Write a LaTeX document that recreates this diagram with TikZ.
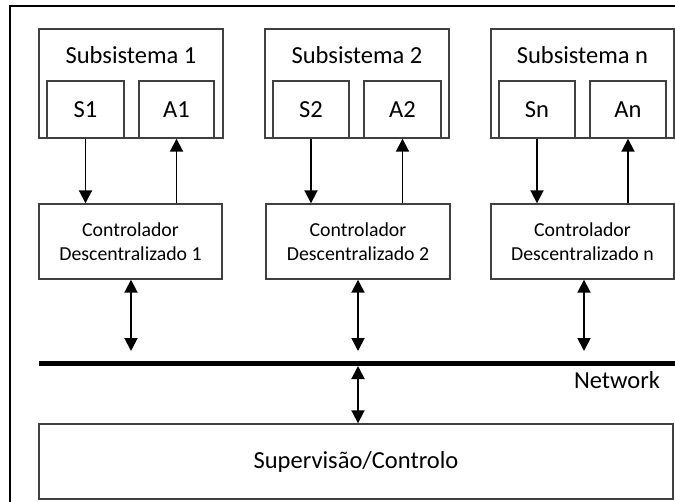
\documentclass[tikz,border=0pt]{standalone}
\usepackage{fontspec}
\setmainfont{Carlito}
\usetikzlibrary{arrows.meta}

\tikzset{
  box/.style={draw=black!75, line width=1.4pt, fill=white, inner sep=0pt},
  bigtxt/.style={font=\fontsize{24.5}{28}\selectfont, inner sep=0pt},
  smalltxt/.style={font=\fontsize{19.8}{24}\selectfont, align=center, inner sep=0pt},
  arr/.style={line width=1.9pt, -{Triangle[width=13pt,length=13pt]}},
  biarr/.style={line width=1.9pt, {Triangle[width=13pt,length=13pt]}-{Triangle[width=13pt,length=13pt]}},
}

\begin{document}
\begin{tikzpicture}[x=1pt, y=-1pt]
  \clip (0,0) rectangle (675,501);
  \fill[white] (0,0) rectangle (675,501);

  % outer frame (right and bottom sides run past the page edge)
  \draw[line width=2pt] (10,6) rectangle (700,530);

  % subsystems with their sensor / actuator blocks
  \node[box, minimum width=184pt, minimum height=109pt] (sub1) at (131,83.5) {};
  \node[bigtxt] (t1) at (131,55) {Subsistema 1};
  \node[box, minimum width=77pt, minimum height=57pt, bigtxt] (s1) at (85.5,109.5) {S1};
  \node[box, minimum width=75pt, minimum height=57pt, bigtxt] (a1) at (176.5,109.5) {A1};

  \node[box, minimum width=184pt, minimum height=109pt] (sub2) at (357,83.5) {};
  \node[bigtxt] (t2) at (357,55) {Subsistema 2};
  \node[box, minimum width=76pt, minimum height=57pt, bigtxt] (s2) at (311,109.5) {S2};
  \node[box, minimum width=77pt, minimum height=57pt, bigtxt] (a2) at (402.5,109.5) {A2};

  \node[box, minimum width=183pt, minimum height=109pt] (subn) at (582.5,83.5) {};
  \node[bigtxt] (tn) at (582.5,55) {Subsistema n};
  \node[box, minimum width=76pt, minimum height=57pt, bigtxt] (sn) at (537,109.5) {Sn};
  \node[box, minimum width=76pt, minimum height=57pt, bigtxt] (an) at (628,109.5) {An};

  % decentralised controllers
  \node[box, minimum width=183pt, minimum height=75pt, smalltxt] (c1) at (130.5,241.5) {Controlador\\Descentralizado 1};
  \node[box, minimum width=184pt, minimum height=75pt, smalltxt] (c2) at (358,241.5) {Controlador\\Descentralizado 2};
  \node[box, minimum width=183pt, minimum height=75pt, smalltxt] (cn) at (582.5,241.5) {Controlador\\Descentralizado n};

  % supervision
  \node[box, minimum width=634pt, minimum height=75pt, bigtxt] (sup) at (356,461.5) {Supervisão/Controlo};

  % network bus
  \coordinate (netL) at (39,363);
  \coordinate (netR) at (680,363);
  \draw[line width=5pt] (netL) -- (netR);
  \node[bigtxt, anchor=center] (netlbl) at (617,380) {Network};

  \coordinate (n1) at (131,351);
  \coordinate (n2) at (358,351);
  \coordinate (n3) at (584,351);
  \coordinate (nsup) at (358,366);

  % sensor and actuator links
  \draw[arr] (s1.south) -- (s1.south |- c1.north);
  \draw[arr] (c1.north -| a1.south) -- (a1.south);
  \draw[arr] (s2.south) -- (s2.south |- c2.north);
  \draw[arr] (c2.north -| a2.south) -- (a2.south);
  \draw[arr] (sn.south) -- (sn.south |- cn.north);
  \draw[arr] (cn.north -| an.south) -- (an.south);

  % controller to network links
  \draw[biarr] (c1.south -| n1) -- (n1);
  \draw[biarr] (c2.south -| n2) -- (n2);
  \draw[biarr] (cn.south -| n3) -- (n3);
  \draw[biarr] (nsup) -- (sup.north -| nsup);
\end{tikzpicture}
\end{document}
